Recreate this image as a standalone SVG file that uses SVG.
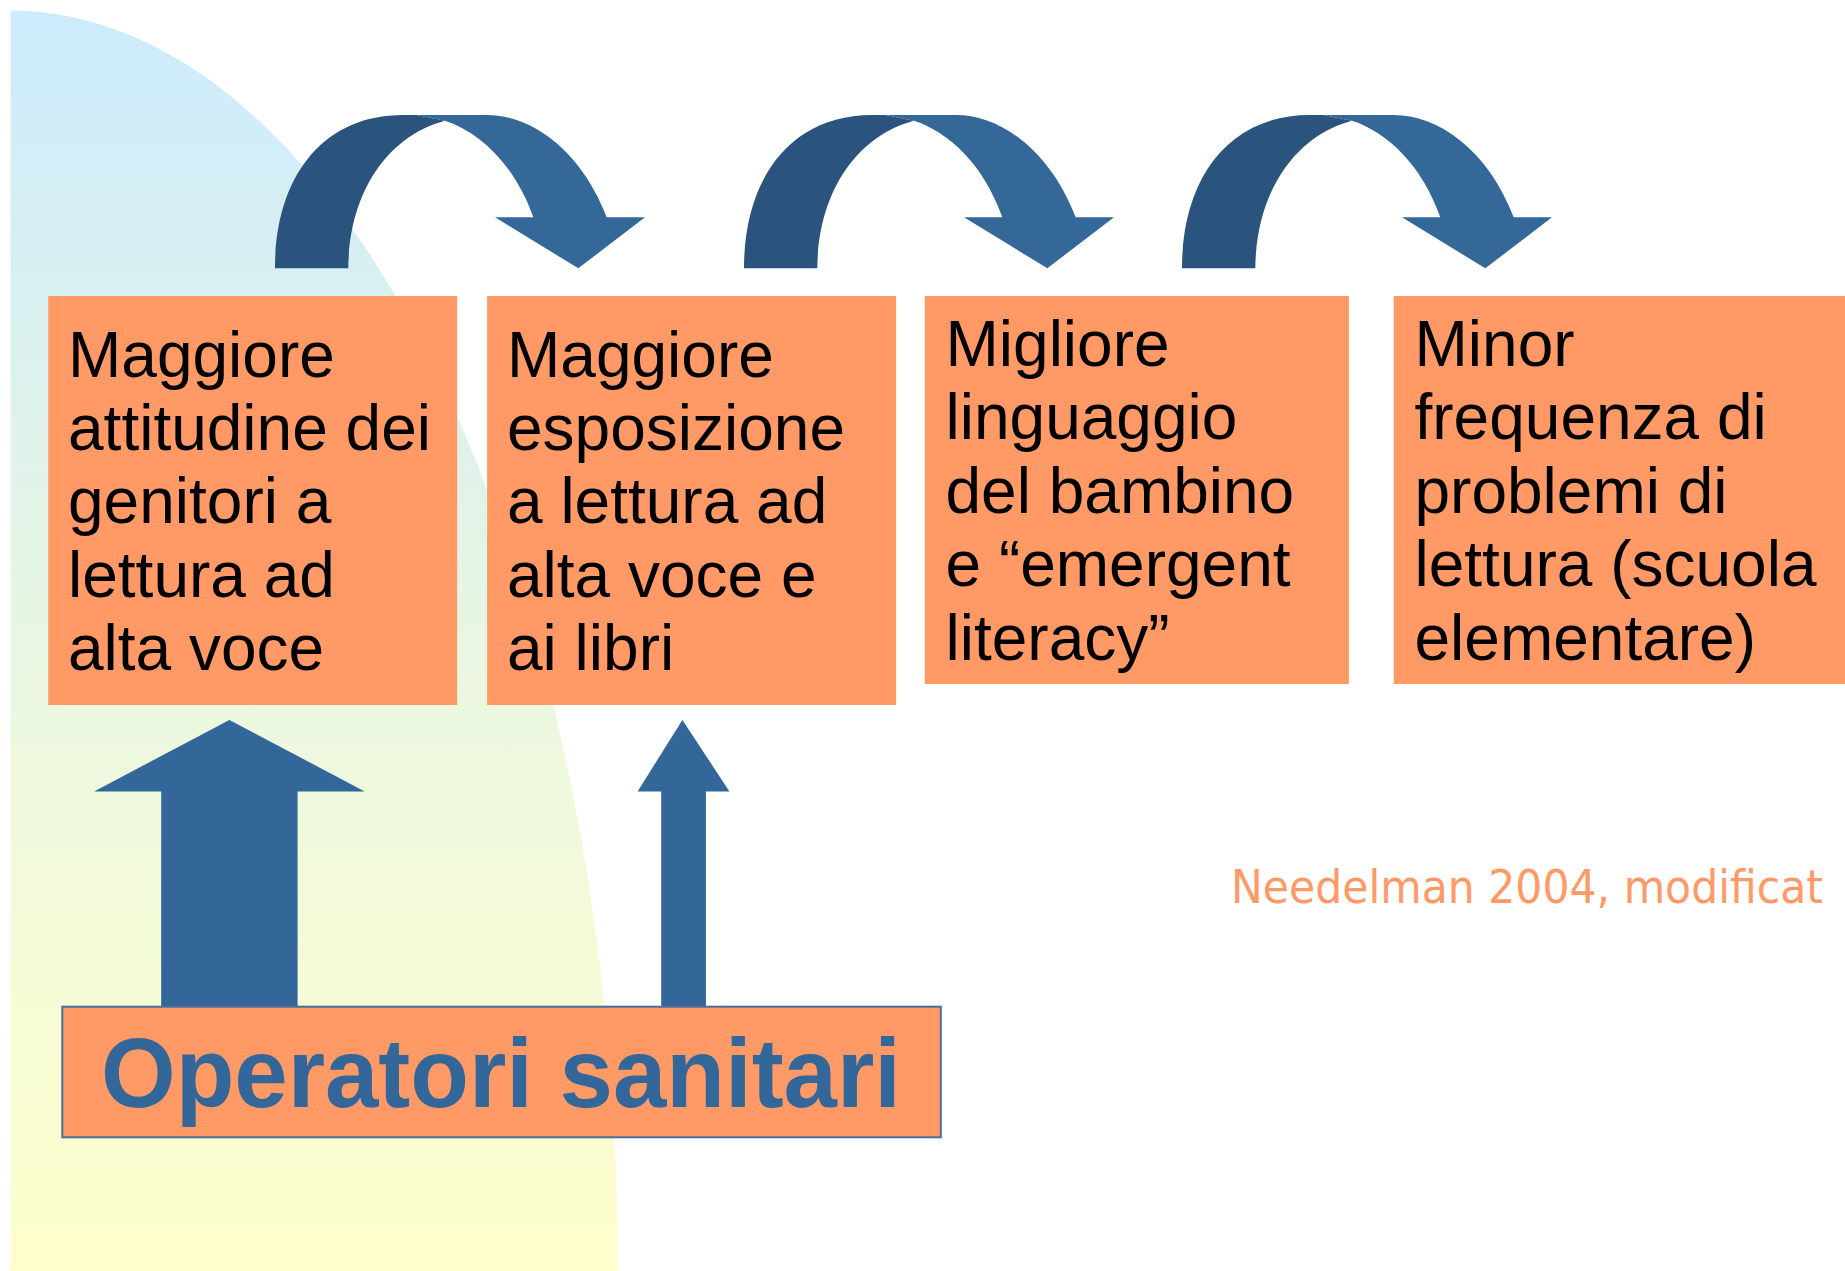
<svg xmlns="http://www.w3.org/2000/svg" width="1845" height="1271" viewBox="0 0 1845 1271">
  <defs>
    <linearGradient id="bg" x1="0" y1="10" x2="0" y2="1271" gradientUnits="userSpaceOnUse">
      <stop offset="0" stop-color="#CCEBFC"/>
      <stop offset="0.55" stop-color="#EBF7E0"/>
      <stop offset="1" stop-color="#FFFFCC"/>
    </linearGradient>
    <g id="curve">
      <path class="dark" d="M 275,268.3 C 275,178 322,115 403,115 L 416.7,115 L 445,120.7 C 390,135 349,190 348.3,268.3 Z"/>
      <path class="light" d="M 416.7,115 L 486.7,115 C 530,115 580,148 606.7,217.3 L 645,217.3 L 578.3,268.3 L 495,217.3 L 533.3,217.3 C 515,165 480,132 445,120.7 Z"/>
    </g>
  </defs>
  <style>
    .box { fill: #FF9966; }
    .txt { font-family: "Liberation Sans", Arial, sans-serif; font-size: 64px; fill: #000000; }
    .dark { fill: #2A547E; }
    .light { fill: #346899; }
    .up { fill: #336699; }
    .op { fill: #FF9966; stroke: #4A6C9C; stroke-width: 2; }
    .optxt { font-family: "Liberation Sans", Arial, sans-serif; font-weight: bold; font-size: 99px; fill: #336699; }
    .cite { font-family: "DejaVu Sans", "Liberation Sans", sans-serif; font-size: 46px; fill: #FF9966; }
  </style>

  <path id="background" d="M 10.6,1271 L 10.6,10.6 A 607.4 1260.4 0 0 1 618,1271 Z" fill="url(#bg)"/>

  <g id="connectors">
    <use href="#curve"/>
    <use href="#curve" transform="translate(469,0)"/>
    <use href="#curve" transform="translate(907,0)"/>
    <path class="up" d="M 161.2,1007 L 161.2,791.4 L 94.1,791.4 L 229.4,720 L 364.7,791.4 L 297.6,791.4 L 297.6,1007 Z"/>
    <path class="up" d="M 661.2,1007 L 661.2,791.4 L 637.6,791.4 L 682.4,720 L 729.4,791.4 L 705.9,791.4 L 705.9,1007 Z"/>
  </g>

  <g id="node1">
    <rect class="box" x="48.2" y="296" width="409" height="409"/>
    <text class="txt">
      <tspan x="68" y="376.5">Maggiore</tspan>
      <tspan x="68" y="449.8">attitudine dei</tspan>
      <tspan x="68" y="523.1">genitori a</tspan>
      <tspan x="68" y="596.6">lettura ad</tspan>
      <tspan x="68" y="669.8">alta voce</tspan>
    </text>
  </g>

  <g id="node2">
    <rect class="box" x="487.1" y="296" width="409" height="409"/>
    <text class="txt">
      <tspan x="507" y="376.5">Maggiore</tspan>
      <tspan x="507" y="449.8">esposizione</tspan>
      <tspan x="507" y="523.1">a lettura ad</tspan>
      <tspan x="507" y="596.6">alta voce e</tspan>
      <tspan x="507" y="669.8">ai libri</tspan>
    </text>
  </g>

  <g id="node3">
    <rect class="box" x="924.7" y="296" width="424.2" height="388"/>
    <text class="txt">
      <tspan x="945.5" y="366">Migliore</tspan>
      <tspan x="945.5" y="439.4">linguaggio</tspan>
      <tspan x="945.5" y="512.9">del bambino</tspan>
      <tspan x="945.5" y="586.3">e “emergent</tspan>
      <tspan x="945.5" y="659.8">literacy”</tspan>
    </text>
  </g>

  <g id="node4">
    <rect class="box" x="1393.7" y="296" width="451.3" height="388"/>
    <text class="txt">
      <tspan x="1414.5" y="366">Minor</tspan>
      <tspan x="1414.5" y="439.4">frequenza di</tspan>
      <tspan x="1414.5" y="512.9">problemi di</tspan>
      <tspan x="1414.5" y="586.3">lettura (scuola</tspan>
      <tspan x="1414.5" y="659.8">elementare)</tspan>
    </text>
  </g>

  <g id="node5">
    <rect class="op" x="62.3" y="1006.7" width="878.5" height="130.6"/>
    <text class="optxt" x="101" y="1107.3" textLength="800" lengthAdjust="spacingAndGlyphs">Operatori sanitari</text>
  </g>

  <g id="citation">
    <text class="cite" x="1231" y="902.8" textLength="592" lengthAdjust="spacingAndGlyphs">Needelman 2004, modificat</text>
  </g>
</svg>
